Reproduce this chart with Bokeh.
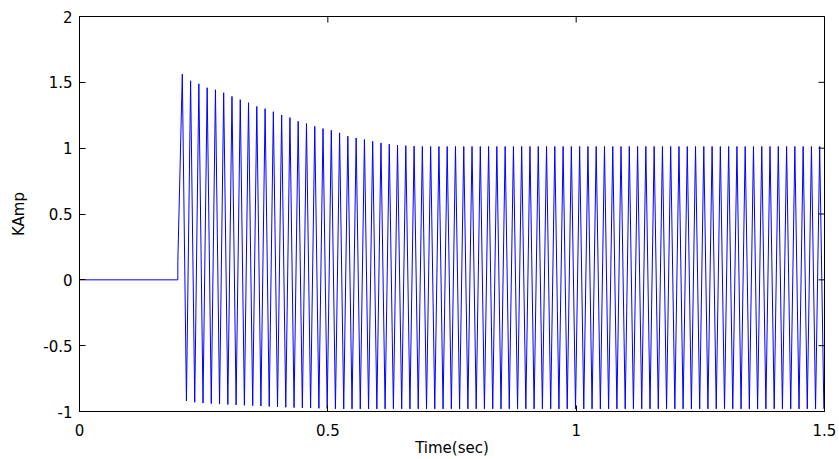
import math
from bokeh.plotting import figure
from bokeh.models import FixedTicker, Range1d
from bokeh.embed import file_html
from bokeh.resources import INLINE

# ---- data ----
pre_t = [0.0, 0.198, 0.198]
pre_v = [0.0, 0.0, 0.14]

pos_t = [0.2070, 0.2237, 0.2403, 0.2570, 0.2737, 0.2903, 0.3070, 0.3237, 0.3403, 0.3570,
         0.3737, 0.3903, 0.4070, 0.4237, 0.4403, 0.4570, 0.4737, 0.4903, 0.5070, 0.5237,
         0.5403, 0.5570, 0.5737, 0.5903, 0.6070, 0.6237, 0.6403, 0.6570, 0.6737, 0.6903,
         0.7070, 0.7237, 0.7403, 0.7570, 0.7737, 0.7903, 0.8070, 0.8237, 0.8403, 0.8570,
         0.8737, 0.8903, 0.9070, 0.9237, 0.9403, 0.9570, 0.9737, 0.9903, 1.0070, 1.0237,
         1.0403, 1.0570, 1.0737, 1.0903, 1.1070, 1.1237, 1.1403, 1.1570, 1.1737, 1.1903,
         1.2070, 1.2237, 1.2403, 1.2570, 1.2737, 1.2903, 1.3070, 1.3237, 1.3403, 1.3570,
         1.3737, 1.3903, 1.4070, 1.4237, 1.4403, 1.4570, 1.4737, 1.4903]
pos_v = [1.562, 1.512, 1.489, 1.459, 1.444, 1.421, 1.393, 1.368, 1.345, 1.317,
         1.300, 1.277, 1.252, 1.232, 1.204, 1.187, 1.166, 1.149, 1.136, 1.116,
         1.091, 1.078, 1.066, 1.052, 1.040, 1.030, 1.024, 1.019, 1.016, 1.013,
         1.013, 1.013, 1.013, 1.013, 1.013, 1.013, 1.013, 1.013, 1.013, 1.013,
         1.013, 1.013, 1.013, 1.013, 1.013, 1.013, 1.013, 1.013, 1.013, 1.013,
         1.013, 1.013, 1.013, 1.013, 1.013, 1.013, 1.013, 1.013, 1.013, 1.013,
         1.013, 1.013, 1.013, 1.013, 1.013, 1.013, 1.013, 1.013, 1.013, 1.013,
         1.013, 1.013, 1.013, 1.013, 1.013, 1.013, 1.013, 1.013]

neg_t = [0.2153, 0.2320, 0.2487, 0.2653, 0.2820, 0.2987, 0.3153, 0.3320, 0.3487, 0.3653,
         0.3820, 0.3987, 0.4153, 0.4320, 0.4487, 0.4653, 0.4820, 0.4987, 0.5153, 0.5320,
         0.5487, 0.5653, 0.5820, 0.5987, 0.6153, 0.6320, 0.6487, 0.6653, 0.6820, 0.6987,
         0.7153, 0.7320, 0.7487, 0.7653, 0.7820, 0.7987, 0.8153, 0.8320, 0.8487, 0.8653,
         0.8820, 0.8987, 0.9153, 0.9320, 0.9487, 0.9653, 0.9820, 0.9987, 1.0153, 1.0320,
         1.0487, 1.0653, 1.0820, 1.0987, 1.1153, 1.1320, 1.1487, 1.1653, 1.1820, 1.1987,
         1.2153, 1.2320, 1.2487, 1.2653, 1.2820, 1.2987, 1.3153, 1.3320, 1.3487, 1.3653,
         1.3820, 1.3987, 1.4153, 1.4320, 1.4487, 1.4653, 1.4820, 1.4987]
neg_v = [-0.920, -0.930, -0.936, -0.940, -0.944, -0.947, -0.950, -0.953, -0.956, -0.959,
         -0.962, -0.965, -0.968, -0.970, -0.972, -0.974, -0.976, -0.978, -0.979, -0.980,
         -0.980, -0.980, -0.980, -0.980, -0.980, -0.980, -0.980, -0.980, -0.980, -0.980,
         -0.980, -0.980, -0.980, -0.980, -0.980, -0.980, -0.980, -0.980, -0.980, -0.980,
         -0.980, -0.980, -0.980, -0.980, -0.980, -0.980, -0.980, -0.980, -0.980, -0.980,
         -0.980, -0.980, -0.980, -0.980, -0.980, -0.980, -0.980, -0.980, -0.980, -0.980,
         -0.980, -0.980, -0.980, -0.980, -0.980, -0.980, -0.980, -0.980, -0.980, -0.980,
         -0.980, -0.980, -0.980, -0.980, -0.980, -0.980, -0.980, -0.980]

x_ticks = [0, 0.5, 1, 1.5]
x_tick_labels = ["0", "0.5", "1", "1.5"]
y_ticks = [-1, -0.5, 0, 0.5, 1, 1.5, 2]
y_tick_labels = ["-1", "-0.5", "0", "0.5", "1", "1.5", "2"]
x_min, x_max = 0, 1.5
y_min, y_max = -1, 2

# ---- build the trace by interleaving the peaks in time order ----
ts = list(pre_t)
vs = list(pre_v)
for a, b, c, d in zip(pos_t, pos_v, neg_t, neg_v):
    ts += [a, c]
    vs += [b, d]

FONT = "DejaVu Sans"
FS = "15px"

p = figure(width=838, height=459, x_range=Range1d(x_min, x_max), y_range=Range1d(y_min, y_max),
           output_backend="svg", toolbar_location=None,
           min_border_left=79, min_border_right=14, min_border_top=16, min_border_bottom=47)
p.background_fill_color = "white"
p.border_fill_color = "white"
p.outline_line_color = "black"
p.outline_line_width = 1
p.xgrid.grid_line_color = None
p.ygrid.grid_line_color = None

p.line(ts, vs, line_color="#0000ff", line_width=1)

# inward ticks on the top and right edges of the box
p.scatter(x_ticks, [y_max] * len(x_ticks), marker="dash", angle=math.pi / 2, size=12,
          line_color="black", line_width=1)
p.scatter([x_max] * len(y_ticks), y_ticks, marker="dash", size=12,
          line_color="black", line_width=1)

def style(ax, ticks, labels):
    ax.ticker = FixedTicker(ticks=ticks)
    ax.major_tick_in = 6
    ax.major_tick_out = 0
    ax.minor_tick_line_color = None
    ax.axis_line_color = "black"
    ax.major_tick_line_color = "black"
    ax.major_label_overrides = {t: l for t, l in zip(ticks, labels)}
    ax.major_label_text_font = FONT
    ax.major_label_text_font_size = FS
    ax.major_label_text_color = "black"
    ax.axis_label_text_font = FONT
    ax.axis_label_text_font_size = FS
    ax.axis_label_text_font_style = "normal"
    ax.axis_label_text_color = "black"

xa = p.xaxis[0]
style(xa, x_ticks, x_tick_labels)
xa.axis_label = "Time(sec)"
xa.major_label_standoff = 12
xa.axis_label_standoff = 0

ya = p.yaxis[0]
style(ya, y_ticks, y_tick_labels)
ya.axis_label = "KAmp"
ya.major_label_standoff = 7
ya.axis_label_standoff = 12

open("out.html", "w").write(file_html(p, INLINE))
